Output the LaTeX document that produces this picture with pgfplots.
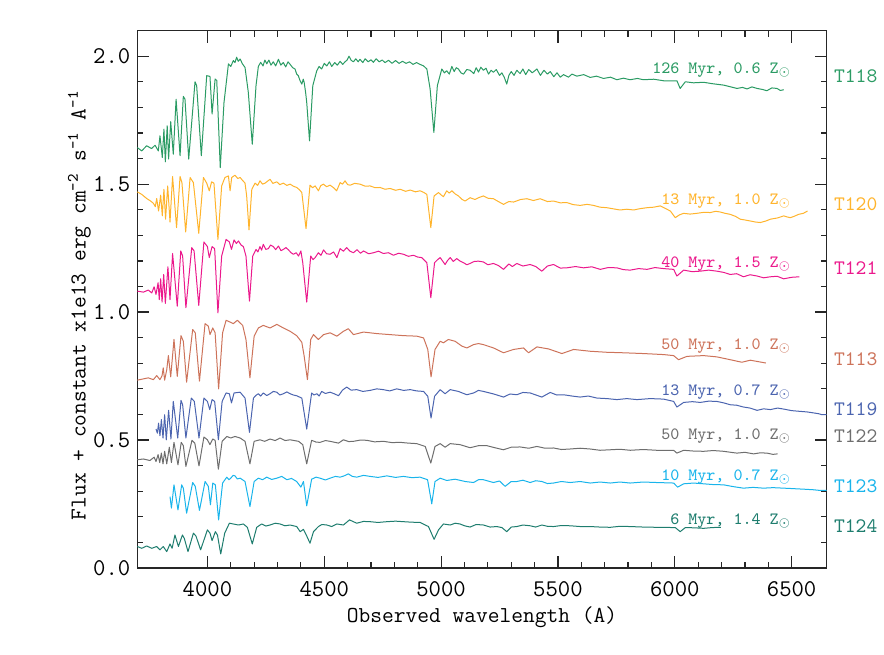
\documentclass[border=0pt]{standalone}
\usepackage{fontspec}
\usepackage{pgfplots}
\pgfplotsset{compat=1.18}
\renewcommand{\familydefault}{\ttdefault}
\definecolor{cT118}{RGB}{43,155,100}
\definecolor{cT120}{RGB}{255,180,45}
\definecolor{cT121}{RGB}{235,25,140}
\definecolor{cT113}{RGB}{205,115,90}
\definecolor{cT119}{RGB}{75,100,175}
\definecolor{cT122}{RGB}{110,110,110}
\definecolor{cT123}{RGB}{25,180,235}
\definecolor{cT124}{RGB}{30,125,110}
\begin{document}
\ttfamily
\begin{tikzpicture}
\begin{axis}[
  scale only axis, width=344.7pt, height=268.7pt,
  xmin=3700, xmax=6650, ymin=0, ymax=2.1,
  xtick={4000,4500,5000,5500,6000,6500},
  ytick={0,0.5,1.0,1.5,2.0},
  minor x tick num=4, minor y tick num=4,
  tick align=inside,
  major tick length=6pt, minor tick length=3pt,
  axis line style={line width=0.6pt, black!85},
  every tick/.style={line width=0.6pt, black!85},
  tick label style={font=\ttfamily\fontsize{12}{14}\selectfont},
  /pgf/number format/assume math mode=true,
  x tick label style={/pgf/number format/1000 sep={}, yshift=-3pt},
  y tick label style={/pgf/number format/fixed, /pgf/number format/fixed zerofill, /pgf/number format/precision=1},
  xlabel={Observed wavelength (A)},
  ylabel={Flux + constant x1e13 erg cm\textsuperscript{-2} s\textsuperscript{-1} A\textsuperscript{-1}},
  label style={font=\ttfamily\fontsize{11.4}{13}\selectfont},
  xlabel style={at={(axis description cs:0.5,-0.0912)}, anchor=center},
  ylabel style={at={(axis description cs:-0.084,0.489)}, anchor=center},
  clip=false,
  every axis plot/.append style={line width=0.5pt, line join=round},
]
% T118
\addplot[cT118] coordinates {(3700,1.643)(3719,1.630)(3740,1.650)(3761,1.639)(3776,1.652)(3790,1.630)(3797,1.689)(3807,1.604)(3814,1.715)(3820,1.587)(3828,1.728)(3834,1.598)(3843,1.744)(3854,1.617)(3866,1.832)(3883,1.611)(3897,1.843)(3904,1.832)(3920,1.598)(3947,1.900)(3954,1.885)(3974,1.611)(3997,1.924)(4011,1.921)(4020,1.774)(4033,1.911)(4040,1.905)(4055,1.565)(4071,1.819)(4090,1.970)(4100,1.960)(4111,1.983)(4118,1.975)(4125,1.996)(4132,1.980)(4140,1.989)(4150,1.970)(4161,1.956)(4175,1.859)(4192,1.656)(4208,1.885)(4218,1.960)(4228,1.976)(4238,1.962)(4246,1.985)(4254,1.970)(4263,1.985)(4272,1.965)(4282,1.978)(4292,1.962)(4304,1.988)(4314,1.965)(4325,1.975)(4335,1.958)(4345,1.978)(4354,1.968)(4365,1.955)(4375,1.950)(4382,1.930)(4389,1.924)(4396,1.905)(4404,1.891)(4410,1.910)(4414,1.898)(4420,1.860)(4425,1.819)(4437,1.669)(4451,1.885)(4468,1.943)(4478,1.960)(4489,1.950)(4500,1.972)(4511,1.962)(4522,1.978)(4532,1.960)(4545,1.975)(4556,1.965)(4568,1.980)(4579,1.968)(4589,1.978)(4598,1.985)(4606,2.000)(4615,1.984)(4625,1.978)(4635,1.990)(4645,1.978)(4653,1.988)(4665,1.975)(4675,1.990)(4688,1.978)(4700,1.986)(4710,1.976)(4722,1.990)(4735,1.978)(4748,1.985)(4760,1.975)(4775,1.984)(4790,1.972)(4805,1.983)(4820,1.972)(4835,1.980)(4850,1.972)(4865,1.978)(4880,1.968)(4895,1.975)(4910,1.968)(4925,1.962)(4939,1.950)(4953,1.872)(4969,1.702)(4984,1.885)(5003,1.950)(5014,1.935)(5024,1.943)(5035,1.930)(5046,1.960)(5056,1.940)(5065,1.955)(5074,1.950)(5085,1.935)(5096,1.930)(5110,1.948)(5124,1.945)(5140,1.932)(5150,1.955)(5160,1.938)(5170,1.957)(5181,1.945)(5192,1.953)(5203,1.930)(5214,1.945)(5224,1.937)(5236,1.948)(5250,1.925)(5260,1.935)(5270,1.918)(5281,1.891)(5290,1.925)(5300,1.940)(5312,1.925)(5324,1.945)(5338,1.932)(5350,1.950)(5362,1.928)(5375,1.948)(5390,1.935)(5410,1.950)(5425,1.925)(5440,1.945)(5455,1.930)(5467,1.940)(5482,1.920)(5496,1.935)(5510,1.918)(5524,1.928)(5545,1.918)(5560,1.930)(5581,1.922)(5610,1.928)(5638,1.917)(5665,1.922)(5695,1.913)(5725,1.918)(5752,1.908)(5780,1.914)(5809,1.908)(5840,1.913)(5866,1.908)(5910,1.910)(5952,1.904)(6009,1.904)(6023,1.874)(6045,1.900)(6080,1.896)(6123,1.898)(6165,1.892)(6209,1.887)(6240,1.880)(6266,1.874)(6290,1.878)(6309,1.872)(6330,1.880)(6352,1.874)(6375,1.870)(6394,1.865)(6415,1.876)(6437,1.874)(6452,1.866)(6466,1.869)};
% T120
\addplot[cT120] coordinates {(3700,1.470)(3719,1.460)(3740,1.444)(3757,1.434)(3769,1.425)(3777,1.412)(3783,1.444)(3791,1.395)(3800,1.457)(3807,1.376)(3814,1.480)(3821,1.363)(3830,1.493)(3840,1.352)(3851,1.530)(3868,1.330)(3883,1.530)(3891,1.506)(3907,1.313)(3926,1.526)(3940,1.506)(3963,1.308)(3983,1.526)(3997,1.504)(4008,1.474)(4018,1.509)(4028,1.504)(4045,1.284)(4061,1.493)(4075,1.526)(4090,1.532)(4097,1.474)(4104,1.526)(4118,1.535)(4130,1.522)(4140,1.526)(4150,1.515)(4161,1.504)(4168,1.454)(4178,1.321)(4190,1.480)(4204,1.504)(4215,1.495)(4225,1.513)(4236,1.500)(4247,1.504)(4258,1.512)(4268,1.519)(4280,1.503)(4297,1.509)(4310,1.498)(4325,1.504)(4340,1.495)(4354,1.500)(4368,1.492)(4382,1.487)(4394,1.478)(4404,1.467)(4422,1.326)(4439,1.496)(4450,1.486)(4461,1.493)(4475,1.474)(4485,1.494)(4496,1.500)(4510,1.490)(4525,1.496)(4540,1.486)(4553,1.474)(4568,1.506)(4578,1.500)(4589,1.513)(4600,1.498)(4611,1.496)(4630,1.503)(4653,1.500)(4675,1.492)(4696,1.493)(4718,1.486)(4739,1.487)(4760,1.480)(4782,1.483)(4805,1.476)(4825,1.480)(4848,1.472)(4868,1.477)(4890,1.470)(4910,1.474)(4925,1.468)(4939,1.460)(4956,1.330)(4970,1.454)(4989,1.467)(5000,1.458)(5010,1.451)(5024,1.474)(5035,1.465)(5046,1.474)(5060,1.462)(5074,1.454)(5090,1.440)(5103,1.434)(5124,1.447)(5145,1.440)(5160,1.447)(5181,1.454)(5200,1.445)(5224,1.443)(5245,1.432)(5267,1.421)(5290,1.432)(5310,1.430)(5340,1.440)(5367,1.443)(5395,1.436)(5424,1.443)(5455,1.432)(5481,1.434)(5510,1.427)(5538,1.428)(5565,1.420)(5595,1.417)(5625,1.421)(5652,1.417)(5680,1.410)(5709,1.408)(5740,1.403)(5766,1.399)(5795,1.402)(5824,1.399)(5850,1.404)(5881,1.408)(5910,1.410)(5938,1.415)(5981,1.395)(6002,1.369)(6020,1.380)(6038,1.386)(6065,1.383)(6095,1.386)(6125,1.390)(6152,1.389)(6175,1.394)(6195,1.391)(6215,1.386)(6237,1.382)(6260,1.374)(6280,1.363)(6300,1.360)(6323,1.356)(6345,1.352)(6366,1.350)(6390,1.356)(6409,1.363)(6440,1.368)(6466,1.376)(6480,1.372)(6494,1.369)(6510,1.374)(6530,1.382)(6550,1.386)(6568,1.395)};
% T121
\addplot[cT121] coordinates {(3700,1.082)(3726,1.078)(3747,1.086)(3762,1.075)(3772,1.099)(3780,1.069)(3789,1.115)(3794,1.049)(3800,1.130)(3806,1.039)(3813,1.147)(3820,1.034)(3831,1.177)(3840,1.049)(3851,1.229)(3871,1.023)(3886,1.239)(3894,1.219)(3908,1.017)(3933,1.252)(3943,1.239)(3963,1.026)(3985,1.274)(4000,1.256)(4008,1.213)(4020,1.256)(4031,1.248)(4045,0.997)(4061,1.219)(4080,1.284)(4094,1.274)(4103,1.245)(4114,1.282)(4124,1.268)(4133,1.278)(4144,1.262)(4154,1.256)(4165,1.219)(4180,1.043)(4194,1.219)(4208,1.245)(4216,1.235)(4225,1.256)(4232,1.242)(4239,1.265)(4250,1.245)(4261,1.248)(4270,1.262)(4282,1.256)(4292,1.244)(4304,1.258)(4315,1.240)(4325,1.245)(4336,1.252)(4347,1.243)(4358,1.232)(4368,1.226)(4380,1.232)(4390,1.219)(4400,1.239)(4408,1.193)(4425,1.039)(4442,1.219)(4452,1.205)(4461,1.213)(4475,1.232)(4486,1.222)(4497,1.243)(4510,1.228)(4525,1.226)(4540,1.235)(4554,1.213)(4568,1.248)(4582,1.238)(4596,1.252)(4610,1.238)(4625,1.232)(4640,1.244)(4655,1.230)(4668,1.239)(4690,1.228)(4711,1.232)(4732,1.238)(4753,1.229)(4775,1.232)(4796,1.222)(4818,1.230)(4839,1.226)(4860,1.218)(4882,1.222)(4900,1.215)(4917,1.213)(4939,1.193)(4956,1.056)(4972,1.193)(4985,1.205)(4996,1.213)(5017,1.186)(5028,1.202)(5039,1.213)(5052,1.198)(5067,1.209)(5080,1.200)(5096,1.193)(5110,1.185)(5124,1.190)(5142,1.198)(5160,1.199)(5181,1.196)(5200,1.185)(5224,1.190)(5245,1.182)(5267,1.167)(5290,1.188)(5305,1.178)(5324,1.190)(5350,1.180)(5381,1.186)(5405,1.178)(5431,1.160)(5455,1.180)(5481,1.186)(5510,1.172)(5538,1.173)(5575,1.178)(5610,1.173)(5645,1.177)(5681,1.167)(5715,1.174)(5752,1.173)(5780,1.166)(5809,1.164)(5845,1.170)(5881,1.167)(5915,1.174)(5952,1.170)(5995,1.167)(6009,1.141)(6038,1.164)(6075,1.158)(6109,1.160)(6145,1.164)(6180,1.160)(6210,1.155)(6237,1.147)(6265,1.150)(6294,1.138)(6322,1.146)(6352,1.141)(6380,1.134)(6409,1.138)(6438,1.140)(6466,1.130)(6500,1.136)(6533,1.138)};
% T113
\addplot[cT113] coordinates {(3700,0.734)(3726,0.739)(3747,0.743)(3769,0.736)(3783,0.752)(3797,0.736)(3806,0.752)(3811,0.782)(3817,0.734)(3826,0.775)(3833,0.830)(3843,0.747)(3857,0.893)(3871,0.749)(3887,0.908)(3897,0.886)(3911,0.726)(3937,0.932)(3948,0.919)(3966,0.730)(3990,0.955)(4004,0.945)(4011,0.912)(4023,0.938)(4033,0.919)(4048,0.700)(4065,0.919)(4080,0.968)(4097,0.961)(4111,0.955)(4128,0.968)(4151,0.948)(4165,0.893)(4182,0.743)(4200,0.906)(4218,0.938)(4239,0.948)(4268,0.938)(4297,0.952)(4325,0.938)(4354,0.925)(4382,0.908)(4404,0.882)(4414,0.828)(4428,0.736)(4442,0.893)(4454,0.912)(4475,0.893)(4497,0.912)(4525,0.919)(4554,0.906)(4582,0.925)(4603,0.935)(4625,0.912)(4668,0.922)(4725,0.916)(4782,0.912)(4839,0.908)(4896,0.906)(4925,0.899)(4943,0.854)(4957,0.747)(4974,0.854)(4996,0.886)(5010,0.880)(5031,0.893)(5060,0.886)(5089,0.867)(5110,0.860)(5139,0.873)(5160,0.877)(5181,0.873)(5224,0.860)(5267,0.841)(5310,0.854)(5353,0.860)(5374,0.841)(5410,0.864)(5460,0.856)(5517,0.838)(5567,0.854)(5638,0.847)(5709,0.843)(5781,0.841)(5866,0.838)(5952,0.834)(5995,0.830)(6016,0.814)(6052,0.827)(6123,0.830)(6180,0.825)(6237,0.814)(6287,0.804)(6323,0.812)(6390,0.801)};
% T119
\addplot[cT119] coordinates {(3780,0.543)(3786,0.527)(3791,0.566)(3797,0.517)(3803,0.580)(3810,0.508)(3817,0.599)(3824,0.501)(3834,0.616)(3844,0.504)(3854,0.651)(3873,0.508)(3887,0.655)(3894,0.638)(3908,0.508)(3931,0.664)(3944,0.651)(3964,0.508)(3985,0.664)(4000,0.651)(4010,0.619)(4020,0.658)(4031,0.651)(4047,0.501)(4063,0.651)(4080,0.684)(4094,0.681)(4103,0.645)(4114,0.684)(4140,0.687)(4161,0.664)(4180,0.530)(4197,0.664)(4208,0.675)(4218,0.681)(4228,0.672)(4239,0.684)(4254,0.674)(4268,0.681)(4282,0.690)(4297,0.687)(4310,0.676)(4325,0.681)(4340,0.688)(4354,0.681)(4368,0.676)(4382,0.673)(4404,0.664)(4425,0.543)(4446,0.684)(4456,0.676)(4468,0.681)(4478,0.672)(4489,0.690)(4505,0.682)(4525,0.687)(4545,0.680)(4561,0.673)(4578,0.695)(4596,0.707)(4615,0.695)(4639,0.697)(4665,0.690)(4696,0.694)(4725,0.700)(4753,0.697)(4780,0.692)(4810,0.700)(4840,0.694)(4868,0.697)(4895,0.692)(4925,0.690)(4943,0.671)(4957,0.586)(4972,0.671)(4996,0.697)(5017,0.681)(5039,0.697)(5074,0.690)(5110,0.677)(5139,0.684)(5160,0.694)(5181,0.690)(5225,0.680)(5267,0.668)(5295,0.680)(5324,0.677)(5350,0.686)(5381,0.684)(5431,0.668)(5467,0.686)(5495,0.676)(5524,0.677)(5560,0.672)(5595,0.668)(5630,0.672)(5667,0.664)(5710,0.662)(5752,0.658)(5795,0.662)(5838,0.658)(5895,0.662)(5952,0.660)(5995,0.651)(6009,0.629)(6038,0.647)(6075,0.650)(6109,0.647)(6145,0.652)(6180,0.651)(6210,0.645)(6237,0.638)(6265,0.636)(6294,0.629)(6322,0.625)(6352,0.616)(6380,0.622)(6409,0.619)(6440,0.625)(6466,0.621)(6500,0.615)(6537,0.612)(6565,0.610)(6594,0.606)(6615,0.603)(6630,0.599)(6650,0.599)};
% T122
\addplot[cT122] coordinates {(3700,0.423)(3726,0.426)(3754,0.420)(3772,0.433)(3780,0.416)(3789,0.443)(3796,0.412)(3803,0.449)(3810,0.407)(3817,0.456)(3826,0.407)(3837,0.472)(3846,0.412)(3857,0.491)(3874,0.403)(3888,0.491)(3897,0.478)(3908,0.397)(3934,0.499)(3946,0.488)(3964,0.399)(3985,0.512)(4000,0.501)(4011,0.482)(4023,0.504)(4033,0.499)(4047,0.386)(4063,0.495)(4083,0.514)(4100,0.508)(4118,0.514)(4140,0.508)(4161,0.495)(4182,0.407)(4200,0.495)(4225,0.501)(4245,0.495)(4268,0.504)(4290,0.498)(4311,0.508)(4332,0.498)(4354,0.501)(4390,0.495)(4408,0.482)(4425,0.407)(4446,0.499)(4465,0.492)(4482,0.491)(4505,0.498)(4525,0.495)(4561,0.488)(4582,0.501)(4605,0.494)(4625,0.495)(4655,0.500)(4682,0.499)(4715,0.493)(4753,0.495)(4790,0.490)(4825,0.491)(4860,0.488)(4896,0.486)(4932,0.475)(4956,0.410)(4974,0.475)(4996,0.486)(5017,0.472)(5039,0.486)(5081,0.482)(5124,0.470)(5160,0.478)(5196,0.478)(5230,0.470)(5267,0.462)(5300,0.472)(5338,0.473)(5375,0.468)(5410,0.475)(5445,0.468)(5481,0.469)(5515,0.463)(5552,0.465)(5595,0.468)(5638,0.465)(5680,0.460)(5724,0.462)(5765,0.464)(5809,0.460)(5865,0.463)(5923,0.460)(5995,0.460)(6009,0.449)(6038,0.460)(6080,0.457)(6123,0.456)(6165,0.459)(6209,0.456)(6240,0.452)(6266,0.449)(6300,0.452)(6337,0.446)(6365,0.450)(6394,0.449)(6420,0.444)(6440,0.446)};
% T123
\addplot[cT123] coordinates {(3840,0.279)(3846,0.234)(3857,0.325)(3874,0.227)(3890,0.325)(3897,0.312)(3911,0.214)(3937,0.334)(3948,0.319)(3966,0.225)(3990,0.338)(4004,0.319)(4013,0.247)(4023,0.332)(4034,0.325)(4048,0.188)(4065,0.332)(4083,0.355)(4092,0.345)(4100,0.351)(4110,0.362)(4118,0.360)(4128,0.348)(4140,0.351)(4150,0.345)(4161,0.338)(4182,0.240)(4200,0.338)(4218,0.351)(4236,0.345)(4254,0.355)(4275,0.346)(4297,0.351)(4318,0.358)(4340,0.345)(4360,0.350)(4382,0.338)(4400,0.316)(4411,0.338)(4425,0.243)(4446,0.347)(4465,0.355)(4482,0.351)(4505,0.344)(4525,0.351)(4548,0.358)(4568,0.355)(4585,0.360)(4603,0.368)(4620,0.358)(4639,0.355)(4668,0.362)(4696,0.358)(4730,0.354)(4768,0.360)(4805,0.354)(4839,0.358)(4875,0.353)(4910,0.355)(4942,0.345)(4960,0.251)(4974,0.338)(4996,0.351)(5024,0.342)(5060,0.347)(5103,0.338)(5139,0.334)(5160,0.345)(5181,0.345)(5224,0.334)(5250,0.340)(5274,0.319)(5300,0.338)(5324,0.338)(5350,0.343)(5381,0.334)(5405,0.341)(5431,0.338)(5455,0.330)(5481,0.332)(5515,0.338)(5552,0.334)(5595,0.338)(5638,0.332)(5680,0.336)(5724,0.332)(5765,0.336)(5809,0.332)(5865,0.336)(5923,0.334)(5995,0.332)(6012,0.316)(6038,0.329)(6080,0.332)(6123,0.329)(6165,0.326)(6209,0.325)(6250,0.318)(6294,0.312)(6335,0.315)(6380,0.312)(6420,0.314)(6466,0.312)(6510,0.310)(6551,0.308)(6590,0.306)(6623,0.303)(6650,0.303)};
% T124
\addplot[cT124] coordinates {(3700,0.084)(3719,0.077)(3740,0.086)(3762,0.077)(3783,0.084)(3797,0.071)(3811,0.084)(3826,0.064)(3840,0.094)(3849,0.077)(3861,0.129)(3876,0.084)(3893,0.129)(3901,0.116)(3917,0.064)(3940,0.136)(3951,0.125)(3971,0.071)(4000,0.149)(4011,0.136)(4020,0.107)(4034,0.142)(4043,0.129)(4057,0.055)(4074,0.136)(4094,0.175)(4111,0.172)(4133,0.168)(4154,0.172)(4171,0.159)(4192,0.094)(4211,0.159)(4232,0.172)(4250,0.164)(4268,0.168)(4290,0.175)(4311,0.172)(4332,0.165)(4354,0.168)(4382,0.162)(4397,0.142)(4411,0.151)(4425,0.125)(4439,0.097)(4454,0.142)(4475,0.162)(4490,0.170)(4511,0.168)(4532,0.162)(4554,0.172)(4582,0.168)(4608,0.188)(4639,0.175)(4668,0.182)(4696,0.181)(4730,0.178)(4768,0.181)(4805,0.183)(4839,0.181)(4875,0.179)(4910,0.178)(4946,0.162)(4970,0.112)(4989,0.149)(5010,0.172)(5039,0.168)(5060,0.175)(5081,0.172)(5100,0.165)(5124,0.160)(5150,0.170)(5181,0.168)(5210,0.160)(5238,0.162)(5260,0.158)(5281,0.142)(5300,0.160)(5324,0.162)(5350,0.168)(5381,0.165)(5405,0.160)(5431,0.168)(5455,0.163)(5481,0.162)(5515,0.166)(5552,0.165)(5595,0.162)(5638,0.162)(5680,0.160)(5724,0.159)(5765,0.163)(5809,0.162)(5865,0.160)(5923,0.159)(6002,0.158)(6023,0.142)(6045,0.158)(6085,0.157)(6123,0.155)(6160,0.158)(6197,0.159)};
% inline labels
\begin{scope}[every node/.style={anchor=east, font=\ttfamily\fontsize{8.6}{10}\selectfont, inner sep=0pt}]
\node[text=cT118] at (axis cs:6500,1.947) {126 Myr, 0.6 Z$_\odot$};
\node[text=cT120] at (axis cs:6500,1.434) {13 Myr, 1.0 Z$_\odot$};
\node[text=cT121] at (axis cs:6500,1.186) {40 Myr, 1.5 Z$_\odot$};
\node[text=cT113] at (axis cs:6500,0.866) {50 Myr, 1.0 Z$_\odot$};
\node[text=cT119] at (axis cs:6500,0.686) {13 Myr, 0.7 Z$_\odot$};
\node[text=cT122] at (axis cs:6500,0.517) {50 Myr, 1.0 Z$_\odot$};
\node[text=cT123] at (axis cs:6500,0.357) {10 Myr, 0.7 Z$_\odot$};
\node[text=cT124] at (axis cs:6500,0.184) {6 Myr, 1.4 Z$_\odot$};
\end{scope}
\begin{scope}[every node/.style={anchor=west, font=\ttfamily\fontsize{10.3}{12}\selectfont, inner sep=0pt}]
\node[text=cT118] at (axis cs:6680,1.921) {T118};
\node[text=cT120] at (axis cs:6680,1.421) {T120};
\node[text=cT121] at (axis cs:6680,1.170) {T121};
\node[text=cT113] at (axis cs:6680,0.817) {T113};
\node[text=cT119] at (axis cs:6680,0.619) {T119};
\node[text=cT122] at (axis cs:6680,0.517) {T122};
\node[text=cT123] at (axis cs:6680,0.318) {T123};
\node[text=cT124] at (axis cs:6680,0.164) {T124};
\end{scope}
\end{axis}
\pgfresetboundingbox
\path[use as bounding box] (current axis.south west) ++(-68.65pt,-43pt) rectangle ([shift={(28.65pt,15.3pt)}]current axis.north east);
\end{tikzpicture}
\end{document}
